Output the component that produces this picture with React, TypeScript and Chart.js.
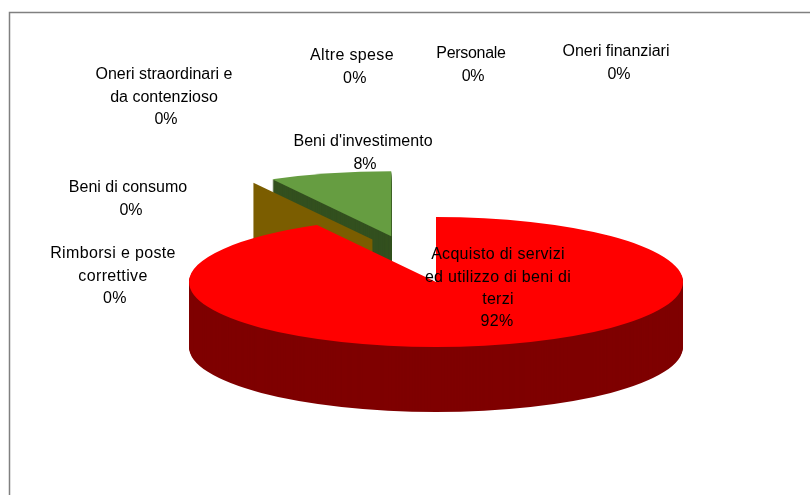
import React, { useEffect, useRef } from "react";
import { Chart, registerables } from "chart.js";

Chart.register(...registerables);

const categories = [
  "Acquisto di servizi ed utilizzo di beni di terzi",
  "Rimborsi e poste correttive",
  "Beni di consumo",
  "Beni d'investimento",
  "Oneri straordinari e da contenzioso",
  "Altre spese",
  "Personale",
  "Oneri finanziari",
];
const values = [92, 0, 0, 8, 0, 0, 0, 0];
const percentLabels = ["92%", "0%", "0%", "8%", "0%", "0%", "0%", "0%"];
const labelLines = [
  ["Acquisto di servizi", "ed utilizzo di beni di", "terzi"],
  ["Rimborsi e poste", "correttive"],
  ["Beni di consumo"],
  ["Beni d'investimento"],
  ["Oneri straordinari e", "da contenzioso"],
  ["Altre spese"],
  ["Personale"],
  ["Oneri finanziari"],
];

// Layout and style (not data)
const topColors = ["#ff0000", "#993300", "#7b5d00", "#669d41", "#c0c0c0", "#c0c0c0", "#c0c0c0", "#c0c0c0"];
const wallColors = ["#7f0000", "#4c1900", "#7b5d00", "#33501f", "#808080", "#808080", "#808080", "#808080"];
const explode = [0, 0, 132, 180, 0, 0, 0, 0];
const labelAnchors: [number, number][] = [
  [498, 255], [113, 254], [128, 188], [363, 142], [164, 75], [352, 56], [471, 54], [616, 52],
];
const percentNudge = [-1, 2, 3, 2, 2, 3, 2, 3];
const labelSpacing = [0.3, 0.35, 0, 0.05, 0, 0.35, -0.3, -0.05];
const RADIUS = 247;
const SQUASH = 0.263;
const DEPTH = 65;
const ZERO_LIFT = -12;
const LINE_STEP = 22.3;

const pie3d = {
  id: "pie3d",
  beforeDatasetsDraw(chart: any) {
    const { ctx } = chart;
    const arcs = chart.getDatasetMeta(0).data;
    const fillSector = (arc: any, dy: number, color: string) => {
      const mid = (arc.startAngle + arc.endAngle) / 2;
      const off = arc.options.offset || 0;
      ctx.save();
      ctx.translate(arc.x, arc.y + dy);
      ctx.scale(1, SQUASH);
      ctx.translate(Math.cos(mid) * off, Math.sin(mid) * off);
      ctx.fillStyle = color;
      ctx.beginPath();
      ctx.moveTo(0, 0);
      ctx.arc(0, 0, arc.outerRadius, arc.startAngle, arc.endAngle);
      ctx.closePath();
      ctx.fill();
      ctx.restore();
    };
    const drawSolid = (i: number) => {
      const arc = arcs[i];
      for (let d = DEPTH; d >= 1; d--) fillSector(arc, d, wallColors[i]);
      fillSector(arc, 0, arc.options.backgroundColor);
    };
    const drawZeroWall = (i: number) => {
      const arc = arcs[i];
      const off = arc.options.offset || 0;
      const dir = arc.startAngle;
      const ax = arc.x + Math.cos(dir) * off;
      const ay = arc.y + Math.sin(dir) * off * SQUASH + ZERO_LIFT;
      const ox = ax + Math.cos(dir) * arc.outerRadius;
      const oy = ay + Math.sin(dir) * arc.outerRadius * SQUASH;
      ctx.save();
      ctx.fillStyle = wallColors[i];
      ctx.beginPath();
      ctx.moveTo(ax, ay);
      ctx.lineTo(ox, oy);
      ctx.lineTo(ox, oy + DEPTH);
      ctx.lineTo(ax, ay + DEPTH);
      ctx.closePath();
      ctx.fill();
      ctx.restore();
    };
    drawSolid(3);
    drawZeroWall(2);
    drawSolid(0);
    return false;
  },
  afterDraw(chart: any) {
    const { ctx } = chart;
    ctx.save();
    ctx.strokeStyle = "#808080";
    ctx.lineWidth = 1.5;
    ctx.beginPath();
    ctx.moveTo(9.5, 495);
    ctx.lineTo(9.5, 12.5);
    ctx.lineTo(810, 12.5);
    ctx.stroke();
    ctx.fillStyle = "#000000";
    ctx.font = '16px "Liberation Sans"';
    ctx.textAlign = "center";
    ctx.textBaseline = "middle";
    labelLines.forEach((lines, i) => {
      const [x, y] = labelAnchors[i];
      ctx.letterSpacing = `${labelSpacing[i]}px`;
      lines.forEach((t, j) => ctx.fillText(t, x, y + j * LINE_STEP));
      ctx.fillText(percentLabels[i], x + percentNudge[i], y + lines.length * LINE_STEP);
    });
    ctx.restore();
  },
};

export default function App() {
  const ref = useRef<HTMLCanvasElement>(null);
  useEffect(() => {
    const chart = new Chart(ref.current!, {
      type: "pie",
      data: {
        labels: categories,
        datasets: [
          {
            data: values,
            backgroundColor: topColors,
            borderWidth: 0,
            offset: explode,
          },
        ],
      },
      options: {
        responsive: false,
        animation: false,
        radius: RADIUS,
        cutout: "0%",
        rotation: 0,
        layout: { padding: { left: 62, top: 69, right: 0, bottom: 0 } },
        plugins: { legend: { display: false }, tooltip: { enabled: false }, title: { display: false } },
      },
      plugins: [pie3d],
    } as any);
    return () => chart.destroy();
  }, []);
  return (
    <div style={{ position: "fixed", left: 0, top: 0, width: 810, height: 495, background: "#fff" }}>
      <canvas ref={ref} width={810} height={495} style={{ display: "block" }} />
    </div>
  );
}
